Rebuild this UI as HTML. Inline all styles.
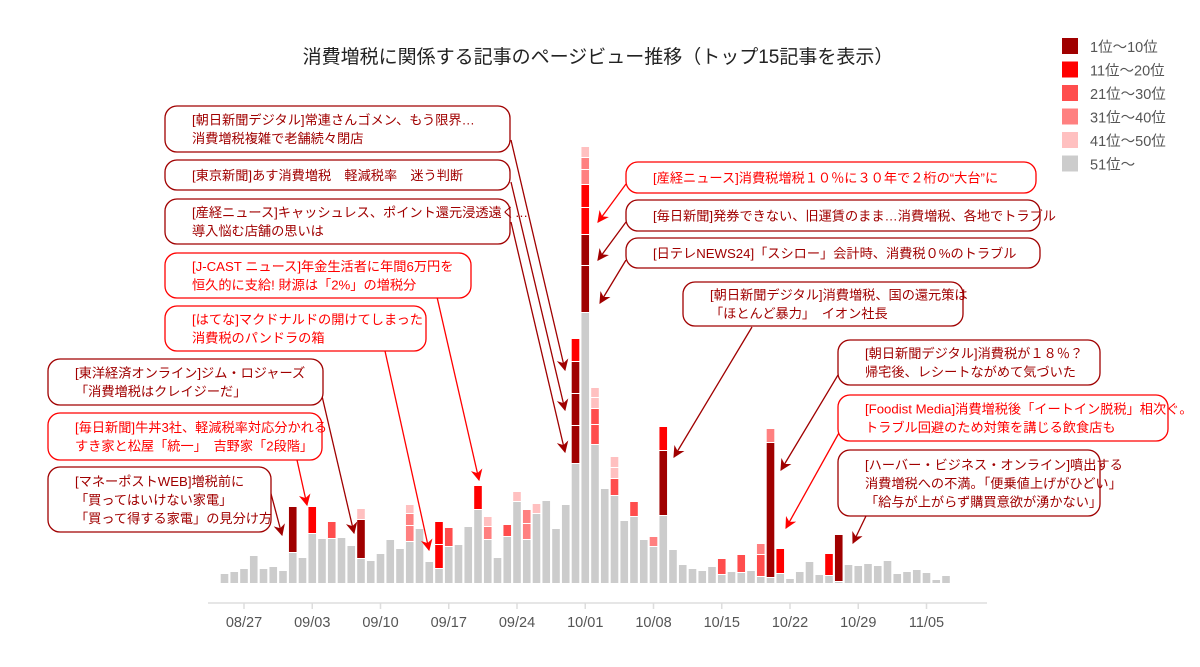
<!DOCTYPE html>
<html><head><meta charset="utf-8"><style>
body{margin:0;background:#fff}
svg{display:block;font-family:"Liberation Sans","Noto Sans CJK JP",sans-serif}
</style></head><body>
<svg id="c" width="1200" height="667" viewBox="0 0 1200 667">
<defs>
<marker id="ad" viewBox="0 0 10 10" refX="9" refY="5" markerWidth="9" markerHeight="9" orient="auto-start-reverse"><path d="M0,0L10,5L0,10L3,5z" fill="#a00000"/></marker>
<marker id="ar" viewBox="0 0 10 10" refX="9" refY="5" markerWidth="9" markerHeight="9" orient="auto-start-reverse"><path d="M0,0L10,5L0,10L3,5z" fill="#ff0000"/></marker>
</defs>
<text x="598" y="63" text-anchor="middle" font-size="19" fill="#222">消費増税に関係する記事のページビュー推移（トップ15記事を表示）</text>
<g id="bars"></g>
<g id="axis"></g>
<g id="notes"></g>
<g id="legend"></g>
</svg>
<script>
const startDay = [2019, 7, 25];
const grayValues = [9,11,14,27,14,16,12,30,25,49, 44,44,45,37,24,22,29,43,34,41, 54,21,14,36,38,56,73,43,25,46, 81,43,69,82,54,78,119,270,138,94, 87,62,66,43,36,67,33,18,14,12, 16,8,11,10,12,6,5,9,4,11, 21,8,7,1,18,17,19,17,22,9, 11,13,10,3,7];
const segDays   = [7,9,11,14,14,19,19,19,22,22,23,26,27,27,29,30,31,31,32,36,36,36,36,37,37,37,37,37,37,37,38,38,38,38,40,40,40,42,44,45,45,51,53,55,55,56,56,57,62,63];
const segGroups = [1,2,3,1,5,4,4,5,2,2,3,2,4,5,3,5,4,4,5,1,1,1,2,1,1,2,2,4,4,5,3,3,5,5,3,5,5,3,4,1,2,3,3,3,4,1,4,2,2,1];
const segValues = [46,27,17,39,11,16,12,9,24,23,19,24,13,10,12,10,16,14,10,38,32,32,23,47,31,27,23,15,12,11,20,16,11,10,17,11,11,15,10,65,24,16,18,22,11,135,14,25,22,47];
const tickLabels = ["08/27","09/03","09/10","09/17","09/24","10/01","10/08","10/15","10/22","10/29","11/05"];
const tickDays = [2,9,16,23,30,37,44,51,58,65,72];
const legendLabels = ["1位〜10位","11位〜20位","21位〜30位","31位〜40位","41位〜50位","51位〜"];
const groupColors = ["#cccccc","#a00000","#ff0000","#ff4d4d","#ff8080","#ffc0c0"];

const NS="http://www.w3.org/2000/svg";
const BASE=583, X0=224.5, STEP=9.75, BW=7.6;
const xScale = d => X0 + d*STEP;
const yScale = v => BASE - v;
function mk(tag, attrs, parent){const e=document.createElementNS(NS,tag);for(const k in attrs)e.setAttribute(k,attrs[k]);parent.appendChild(e);return e;}

const bars=document.getElementById('bars');
const tops = grayValues.slice();
grayValues.forEach((v,d)=>{
  const r=mk('rect',{x:xScale(d)-BW/2,y:yScale(v),width:BW,height:v,fill:groupColors[0]},bars);
  
  
});
segDays.forEach((d,i)=>{
  const v=segValues[i], b=tops[d];
  const r=mk('rect',{x:xScale(d)-BW/2,y:yScale(b+v),width:BW,height:Math.max(v-1,0.5),fill:groupColors[segGroups[i]]},bars);
  
  
  tops[d]=b+v;
});

const ax=document.getElementById('axis');
mk('line',{x1:208,x2:987,y1:603,y2:603,stroke:'#ddd','stroke-width':1.5},ax);
tickDays.forEach((d,i)=>{
  mk('line',{x1:xScale(d),x2:xScale(d),y1:603,y2:609,stroke:'#ddd','stroke-width':1.5},ax);
  const t=mk('text',{x:xScale(d),y:627,'text-anchor':'middle','font-size':14.5,fill:'#555'},ax);
  t.textContent=tickLabels[i];
  
  
});

const lg=document.getElementById('legend');
legendLabels.forEach((l,i)=>{
  const y=38+i*23.5;
  mk('rect',{x:1062,y:y,width:16,height:16,fill:groupColors[(i+1)%6]},lg);
  const t=mk('text',{x:1090,y:y+14,'font-size':14.5,fill:'#555'},lg);
  t.textContent=l;
  
  
});

const D='#a00000', R='#ff0000';
const notes=[
 [165,106,345,46,D,["[朝日新聞デジタル]常連さんゴメン、もう限界…","消費増税複雑で老舗続々閉店"],[511,140],[565,370]],
 [165,160,345,30,D,["[東京新聞]あす消費増税　軽減税率　迷う判断"],[511,182],[565,410]],
 [165,199,345,45,D,["[産経ニュース]キャッシュレス、ポイント還元浸透遠く…","導入悩む店舗の思いは"],[511,222],[565,452]],
 [165,253,306,45,R,["[J-CAST ニュース]年金生活者に年間6万円を","恒久的に支給! 財源は「2%」の増税分"],[437,297],[479,480]],
 [165,306,261,45,R,["[はてな]マクドナルドの開けてしまった","消費税のパンドラの箱"],[385,351],[429,550]],
 [48,359,275,46,D,["[東洋経済オンライン]ジム・ロジャーズ","「消費増税はクレイジーだ」"],[322,396],[354,533]],
 [48,413,274,47,R,["[毎日新聞]牛丼3社、軽減税率対応分かれる","すき家と松屋「統一」　吉野家「2段階」"],[297,460],[307,505]],
 [48,467,223,65,D,["[マネーポストWEB]増税前に","「買ってはいけない家電」","「買って得する家電」の見分け方"],[270,490],[282,535]],
 [626,162,410,31,R,["[産経ニュース]消費税増税１０％に３０年で２桁の“大台”に"],[626,184],[598,222]],
 [626,200,414,31,D,["[毎日新聞]発券できない、旧運賃のまま…消費増税、各地でトラブル"],[626,222],[598,260]],
 [626,238,414,30,D,["[日テレNEWS24]「スシロー」会計時、消費税０%のトラブル"],[626,260],[600,303]],
 [683,282,280,44,D,["[朝日新聞デジタル]消費増税、国の還元策は","「ほとんど暴力」　イオン社長"],[752,327],[674,457]],
 [838,340,262,45,D,["[朝日新聞デジタル]消費税が１８％？","帰宅後、レシートながめて気づいた"],[838,375],[781,470]],
 [838,395,330,46,R,["[Foodist Media]消費増税後「イートイン脱税」相次ぐ。","トラブル回避のため対策を講じる飲食店も"],[840,431],[786,528]],
 [838,450,262,66,D,["[ハーバー・ビジネス・オンライン]噴出する","消費増税への不満。「便乗値上げがひどい」","「給与が上がらず購買意欲が湧かない」"],[866,516],[853,543]]
];
const ng=document.getElementById('notes');
notes.forEach(n=>{
  const [x,y,w,h,c,lines,s,e]=n;
  mk('line',{x1:s[0],y1:s[1],x2:e[0],y2:e[1],stroke:c,'stroke-width':1.3,'marker-end':c===D?'url(#ad)':'url(#ar)'},ng);
});
notes.forEach(n=>{
  const [x,y,w,h,c,lines]=n;
  const g=mk('g',{},ng);
  
  
  mk('rect',{x:x,y:y,width:w,height:h,rx:12,fill:'#fff',stroke:c,'stroke-width':1.3},g);
  const lh=18.5, top=y+h/2-(lines.length*lh)/2+14;
  lines.forEach((l,i)=>{
    const t=mk('text',{x:x+27,y:top+i*lh,'font-size':13.2,fill:c},g);
    t.textContent=l;
  });
});
</script>
</body></html>
